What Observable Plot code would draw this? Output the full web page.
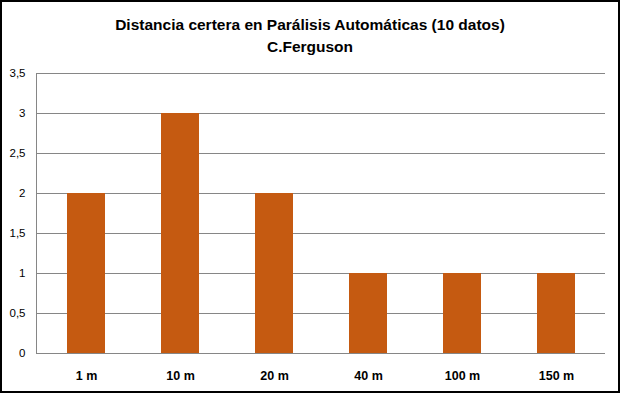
<!DOCTYPE html>
<html><head><meta charset="utf-8">
<script src="https://cdn.jsdelivr.net/npm/d3@7"></script>
<script src="https://cdn.jsdelivr.net/npm/@observablehq/plot@0.6"></script>
<style>
html,body{margin:0;padding:0;background:#fff;}
#wrap{width:620px;height:393px;box-sizing:border-box;border:2px solid #000;position:relative;overflow:hidden;font-family:"Liberation Sans",Arial,sans-serif;}
#titles{height:58px;text-align:center;color:#000;font-weight:bold;font-size:15.5px;}
#t1{padding-top:14px;line-height:18px;}
#t2{line-height:18px;margin-top:4px;}
svg{display:block;}
</style></head>
<body>
<div id="wrap">
  <div id="titles"><div id="t1">Distancia certera en Parálisis Automáticas (10 datos)</div><div id="t2">C.Ferguson</div></div>
  <div id="chart"></div>
</div>
<script>
const categories = ["1 m", "10 m", "20 m", "40 m", "100 m", "150 m"];
const values = [2, 3, 2, 1, 1, 1];
const yTicks = [0, 0.5, 1, 1.5, 2, 2.5, 3, 3.5];

const data = categories.map((c, i) => ({cat: c, v: values[i]}));
const fmt = d => String(d).replace(".", ",");

const plot = Plot.plot({
  width: 616,
  height: 331,
  marginLeft: 34,
  marginRight: 13,
  marginTop: 13,
  marginBottom: 38,
  style: {fontFamily: "'Liberation Sans', Arial, sans-serif", background: "#fff", overflow: "visible"},
  x: {domain: categories, paddingInner: 0.6, paddingOuter: 0.3, label: null},
  y: {domain: [0, 3.5], label: null},
  marks: [
    Plot.ruleY(yTicks, {stroke: "#868686", strokeWidth: 1}),
    Plot.frame({anchor: "left", stroke: "#868686"}),
    Plot.barY(data, {x: "cat", y: "v", fill: "#C55A11"}),
    Plot.ruleY([0], {stroke: "#868686", strokeWidth: 1}),
    Plot.axisY(yTicks, {tickSize: 0, tickPadding: 11, tickFormat: fmt, fontSize: 11.5, fill: "#000", label: null}),
    Plot.axisX({tickSize: 0, tickPadding: 18, fontSize: 12.5, fontWeight: "bold", fill: "#000", label: null})
  ]
});
document.getElementById("chart").appendChild(plot);
</script>
</body></html>
